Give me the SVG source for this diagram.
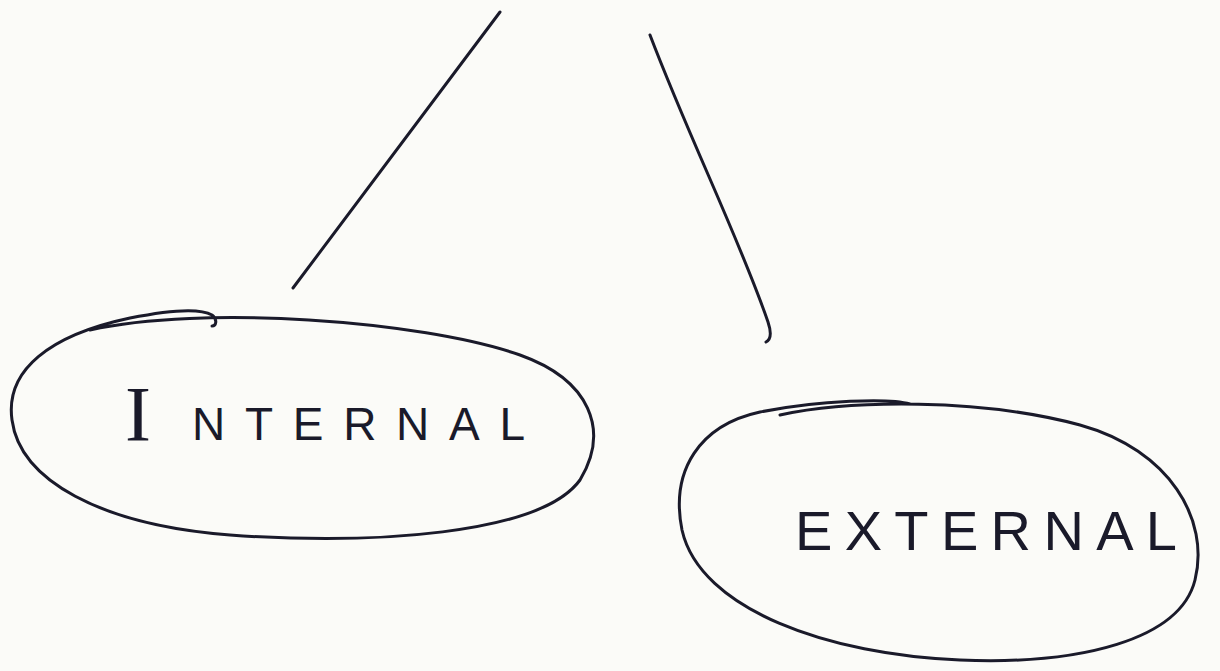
<svg xmlns="http://www.w3.org/2000/svg" width="1220" height="671" viewBox="0 0 1220 671">
<style>
.ln{fill:none;stroke:#1a1a2a;stroke-width:3;stroke-linecap:round;stroke-linejoin:round}
.t{font-family:"Liberation Sans",Arial,sans-serif;fill:#1a1a2a;font-weight:normal}
</style>
<rect width="1220" height="671" fill="#fbfbf8"/>
<g id="connectors">
<path class="ln" d="M500,12 L293,288"/>
<path class="ln" d="M650,35 C690,140 740,240 768,322 C772,334 770,340 766,342"/>
</g>
<g id="internal">
<path class="ln" d="M90,330 C200,305 420,320 520,355 C590,380 610,430 580,480 C540,535 370,545 230,535 C100,525 20,480 12,420 C5,370 50,335 130,318 C170,310 200,308 212,315 C218,320 216,326 212,326"/>
<text x="125" y="440" font-size="78" style="font-family:'Liberation Serif',serif;fill:#1a1a2a">I</text>
<text class="t" x="192" y="440" font-size="46" textLength="333" lengthAdjust="spacing">NTERNAL</text>
</g>
<g id="external">
<path class="ln" d="M780,415 C850,400 980,398 1080,425 C1170,450 1210,520 1195,580 C1180,640 1080,665 960,660 C830,655 700,610 682,530 C670,470 700,425 760,412 C820,400 890,398 910,404"/>
<text class="t" x="795" y="550" font-size="56" textLength="382" lengthAdjust="spacing">EXTERNAL</text>
</g>
</svg>
